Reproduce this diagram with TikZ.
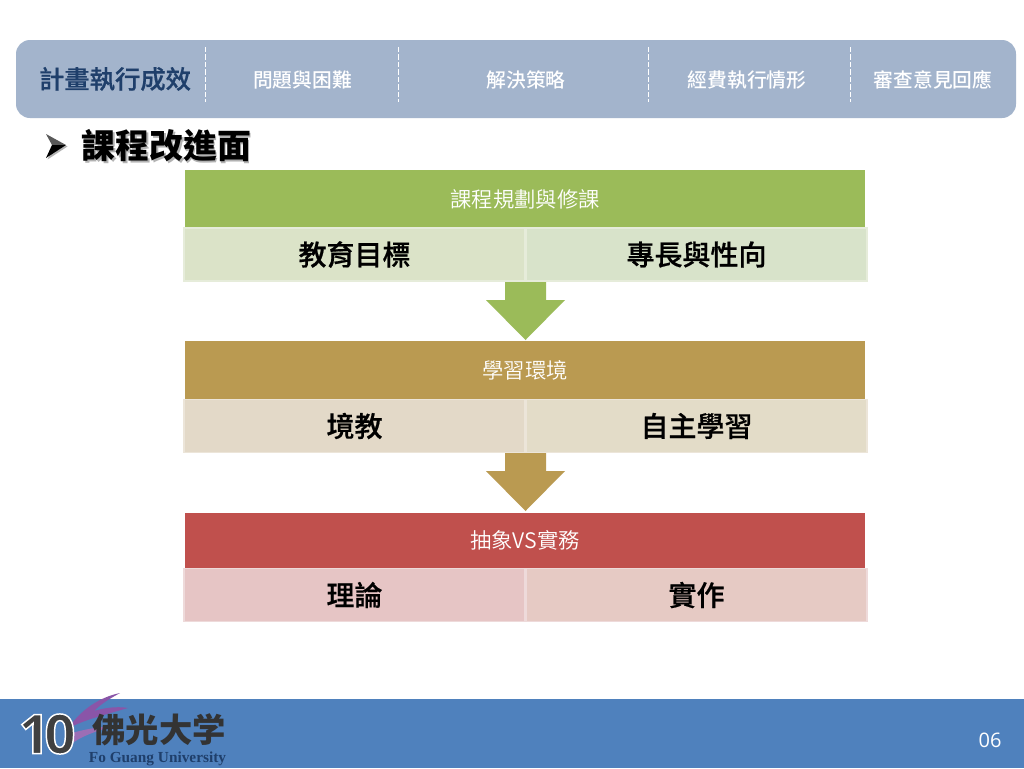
\documentclass[tikz,border=0pt]{standalone}
\usepackage{fontspec}
\setmainfont{Noto Sans CJK TC}
\newfontfamily\medfont{Noto Sans CJK TC Medium}
\newfontfamily\subfont[FakeBold=0.6]{Noto Sans CJK TC Medium}
\newfontfamily\lightfont{Noto Sans CJK TC DemiLight}
\newfontfamily\latinserif{Liberation Serif}
\newfontfamily\latinsans{Open Sans}
\definecolor{barblue}{HTML}{A3B4CC}
\definecolor{navy}{HTML}{1F3F6B}
\definecolor{footblue}{HTML}{4F81BD}
\definecolor{cgreen}{HTML}{9BBB59}
\definecolor{cgreenA}{HTML}{DBE3C8}
\definecolor{cgreenB}{HTML}{D8E3CA}
\definecolor{cgreenL}{HTML}{E6ECDA}
\definecolor{cgold}{HTML}{BA9A51}
\definecolor{cgoldA}{HTML}{E3D9C8}
\definecolor{cgoldB}{HTML}{E3DCC8}
\definecolor{cgoldL}{HTML}{ECE5D9}
\definecolor{cred}{HTML}{C0504D}
\definecolor{credA}{HTML}{E6C5C5}
\definecolor{credB}{HTML}{E6CAC4}
\definecolor{credL}{HTML}{EEDADA}
\definecolor{swoosh}{HTML}{8A55A8}
\tikzset{
  x=0.75pt,y=-0.75pt,
  tabtext/.style={text=white,font=\medfont\fontsize{14.8}{16}\selectfont,inner sep=0pt},
  tabsep/.style={white,dash pattern=on 4pt off 1.6pt,line width=0.9pt},
  headbox/.style={minimum width=510pt,minimum height=#1,inner sep=0,text=white,font=\lightfont\fontsize{16}{18}\selectfont},
  subbox/.style={minimum width=255.5pt,minimum height=39.5pt,inner sep=0,text=black,font=\subfont\fontsize{21}{23}\selectfont,line width=1.1pt},
}
\begin{document}
\begin{tikzpicture}
\useasboundingbox (0,0) rectangle (1024,768);
\fill[white] (0,0) rectangle (1024,768);
% top bar
\fill[barblue,rounded corners=10.5pt] (16,40) rectangle (1016,118);
\node[text=navy,font=\subfont\fontsize{19}{21}\selectfont,inner sep=0pt] (t0) at (115,79) {計畫執行成效};
\node[tabtext] (t1) at (302.5,80) {問題與困難};
\node[tabtext] (t2) at (526,80) {解決策略};
\node[tabtext] (t3) at (747,80) {經費執行情形};
\node[tabtext] (t4) at (933,80) {審查意見回應};
\foreach \x in {205.5,398.5,648.5,850.5} \draw[tabsep] (\x,47) -- (\x,102);
% heading
\fill[gray!60] (47.5,135.5) -- (67.5,146.5) -- (47.5,159.5) -- (53.5,146.5) -- cycle;
\fill[gray!70!black] (46,134) -- (66,145) -- (52,145) -- cycle;
\fill[black] (46,158) -- (66,145) -- (52,145) -- cycle;
\node[text=gray!60,font=\fontsize{25.4}{27}\selectfont\bfseries,inner sep=0pt] (headS) at (168,148) {課程改進面};
\node[text=black,font=\fontsize{25.4}{27}\selectfont\bfseries,inner sep=0pt] (head) at (166.5,146) {課程改進面};
% block 1
\node[headbox=43.5pt,fill=cgreen] (h1) at (525,199) {課程規劃與修課};
\node[subbox,fill=cgreenA,draw=cgreenL] (a1) at (354.5,254.5) {教育目標};
\node[subbox,fill=cgreenB,draw=cgreenL] (b1) at (696.5,254.5) {專長與性向};
% arrow 1
\fill[cgreen] (505,282) -- (546,282) -- (546,300) -- (565,300) -- (525.5,340) -- (486,300) -- (505,300) -- cycle;
% block 2
\node[headbox=43.5pt,fill=cgold] (h2) at (525,370) {學習環境};
\node[subbox,fill=cgoldA,draw=cgoldL] (a2) at (354.5,426) {境教};
\node[subbox,fill=cgoldB,draw=cgoldL] (b2) at (696.5,426) {自主學習};
% arrow 2
\fill[cgold] (505,453) -- (546,453) -- (546,471) -- (565,471) -- (525.5,511) -- (486,471) -- (505,471) -- cycle;
% block 3
\node[headbox=41.5pt,fill=cred] (h3) at (525,540.5) {抽象VS實務};
\node[subbox,fill=credA,draw=credL] (a3) at (354.5,595) {理論};
\node[subbox,fill=credB,draw=credL] (b3) at (696.5,595) {實作};
% footer
\fill[footblue] (0,699) rectangle (1024,768);
\node[text=white,font=\latinsans\fontsize{15}{17}\selectfont,inner sep=0pt] (page) at (990,740) {06};
% logo
\fill[swoosh] (120,693) .. controls (100,697) and (80,710) .. (68,729) .. controls (78,722) and (100,716) .. (128,708) .. controls (116,706) and (104,708) .. (94,711) .. controls (102,703) and (111,698) .. (120,693) -- cycle;
\fill[swoosh!85] (74,742) .. controls (86,734) and (102,729) .. (115,727) .. controls (104,726) and (90,728) .. (72,733) -- cycle;
\node[text=black!75,font=\latinsans\bfseries\fontsize{41}{43}\selectfont\addfontfeature{LetterSpace=-10},inner sep=0pt] (ten) at (47,734) {\special{pdf:code 2 Tr 1.1 w 1 1 1 RG}10\special{pdf:code 0 Tr}};
\node[text=black!80,font=\fontsize{25}{27}\selectfont\bfseries,inner sep=0pt,text height=20pt,text depth=3pt] (logo) at (159,731) {佛光大学};
\node[text=navy,font=\latinserif\fontsize{11.5}{13}\selectfont\bfseries,inner sep=0pt] (eng) at (157.5,758.5) {Fo Guang University};
\end{tikzpicture}
\end{document}
